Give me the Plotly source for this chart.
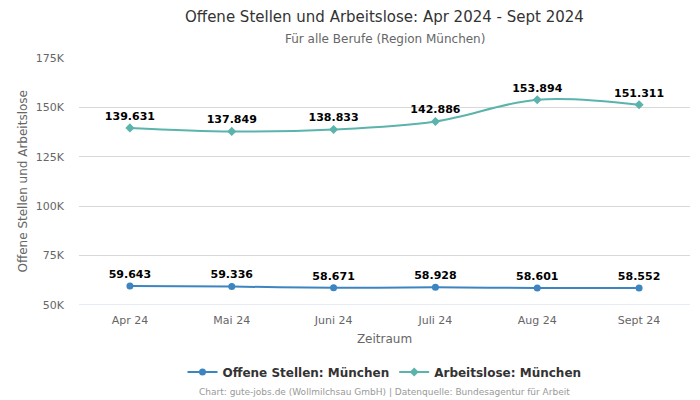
import plotly.graph_objects as go

months = ["Apr 24", "Mai 24", "Juni 24", "Juli 24", "Aug 24", "Sept 24"]
offene = [59643, 59336, 58671, 58928, 58601, 58552]
arbeitslose = [139631, 137849, 138833, 142886, 153894, 151311]
tick_vals = [50000, 75000, 100000, 125000, 150000, 175000]
tick_text = ["50K", "75K", "100K", "125K", "150K", "175K"]

def fmt(v):
    return f"{v:,}".replace(",", ".")

fig = go.Figure()
fig.add_trace(go.Scatter(
    x=months, y=offene, mode="lines+markers+text", name="Offene Stellen: München",
    line=dict(color="#3d85c0", width=2, shape="spline"),
    marker=dict(symbol="circle", size=7, color="#3d85c0"),
    text=[fmt(v) for v in offene], textposition="top center",
    textfont=dict(family="DejaVu Sans", size=11, color="#000000", weight="bold"),
    cliponaxis=False,
))
fig.add_trace(go.Scatter(
    x=months, y=arbeitslose, mode="lines+markers+text", name="Arbeitslose: München",
    line=dict(color="#5ab4ac", width=2, shape="spline"),
    marker=dict(symbol="diamond", size=7, color="#5ab4ac"),
    text=[fmt(v) for v in arbeitslose], textposition="top center",
    textfont=dict(family="DejaVu Sans", size=11, color="#000000", weight="bold"),
    cliponaxis=False,
))

# page body has an 8px margin, so the figure is 692x392 and offset by 8px
fig.update_layout(
    width=692, height=392,
    paper_bgcolor="white", plot_bgcolor="white",
    font=dict(family="DejaVu Sans", color="#666666", size=11),
    margin=dict(l=71, r=10, t=50, b=95, autoexpand=False),
    xaxis=dict(
        title=dict(text="Zeitraum", font=dict(size=12, color="#666666"), standoff=8),
        showgrid=False, showline=False, ticks="", tickfont=dict(size=11, color="#666666"),
        range=[-0.5, 5.5], automargin=False, ticklabelstandoff=7,
    ),
    yaxis=dict(
        range=[50000, 175000], tickvals=tick_vals, ticktext=tick_text,
        gridcolor="#d8d8d8", gridwidth=1, zeroline=False,
        showline=False, tickfont=dict(size=11, color="#666666"), ticklabelstandoff=14,
        automargin=False,
    ),
    legend=dict(
        orientation="h", x=0.5, xanchor="center", yref="container", y=28 / 392, yanchor="middle",
        font=dict(size=12, color="#333333", weight="bold"), itemwidth=30,
    ),
    showlegend=True,
)
fig.add_shape(type="line", xref="paper", yref="y", x0=0, x1=1, y0=50000, y1=50000,
              line=dict(color="#ccd6eb", width=1))
fig.add_annotation(
    text="Offene Stellen und Arbeitslose",
    xref="paper", yref="paper", x=(22 - 79) / 611, xanchor="center",
    y=0.5, yanchor="middle", textangle=-90, showarrow=False,
    font=dict(size=12, color="#666666"),
)
fig.add_annotation(
    text="Offene Stellen und Arbeitslose: Apr 2024 - Sept 2024",
    xref="paper", yref="paper", x=0.5, xanchor="center",
    y=(305 - 17) / 247, yanchor="middle", showarrow=False,
    font=dict(size=15, color="#333333"),
)
fig.add_annotation(
    text="Für alle Berufe (Region München)",
    xref="paper", yref="paper", x=0.5, xanchor="center",
    y=(305 - 39) / 247, yanchor="middle", showarrow=False,
    font=dict(size=12, color="#666666"),
)
fig.add_annotation(
    text="Chart: gute-jobs.de (Wollmilchsau GmbH) | Datenquelle: Bundesagentur für Arbeit",
    xref="paper", yref="paper", x=0.5, xanchor="center",
    y=(305 - 392) / 247, yanchor="middle",
    showarrow=False, font=dict(size=9, color="#999999"),
)
fig.write_html("out.html")
